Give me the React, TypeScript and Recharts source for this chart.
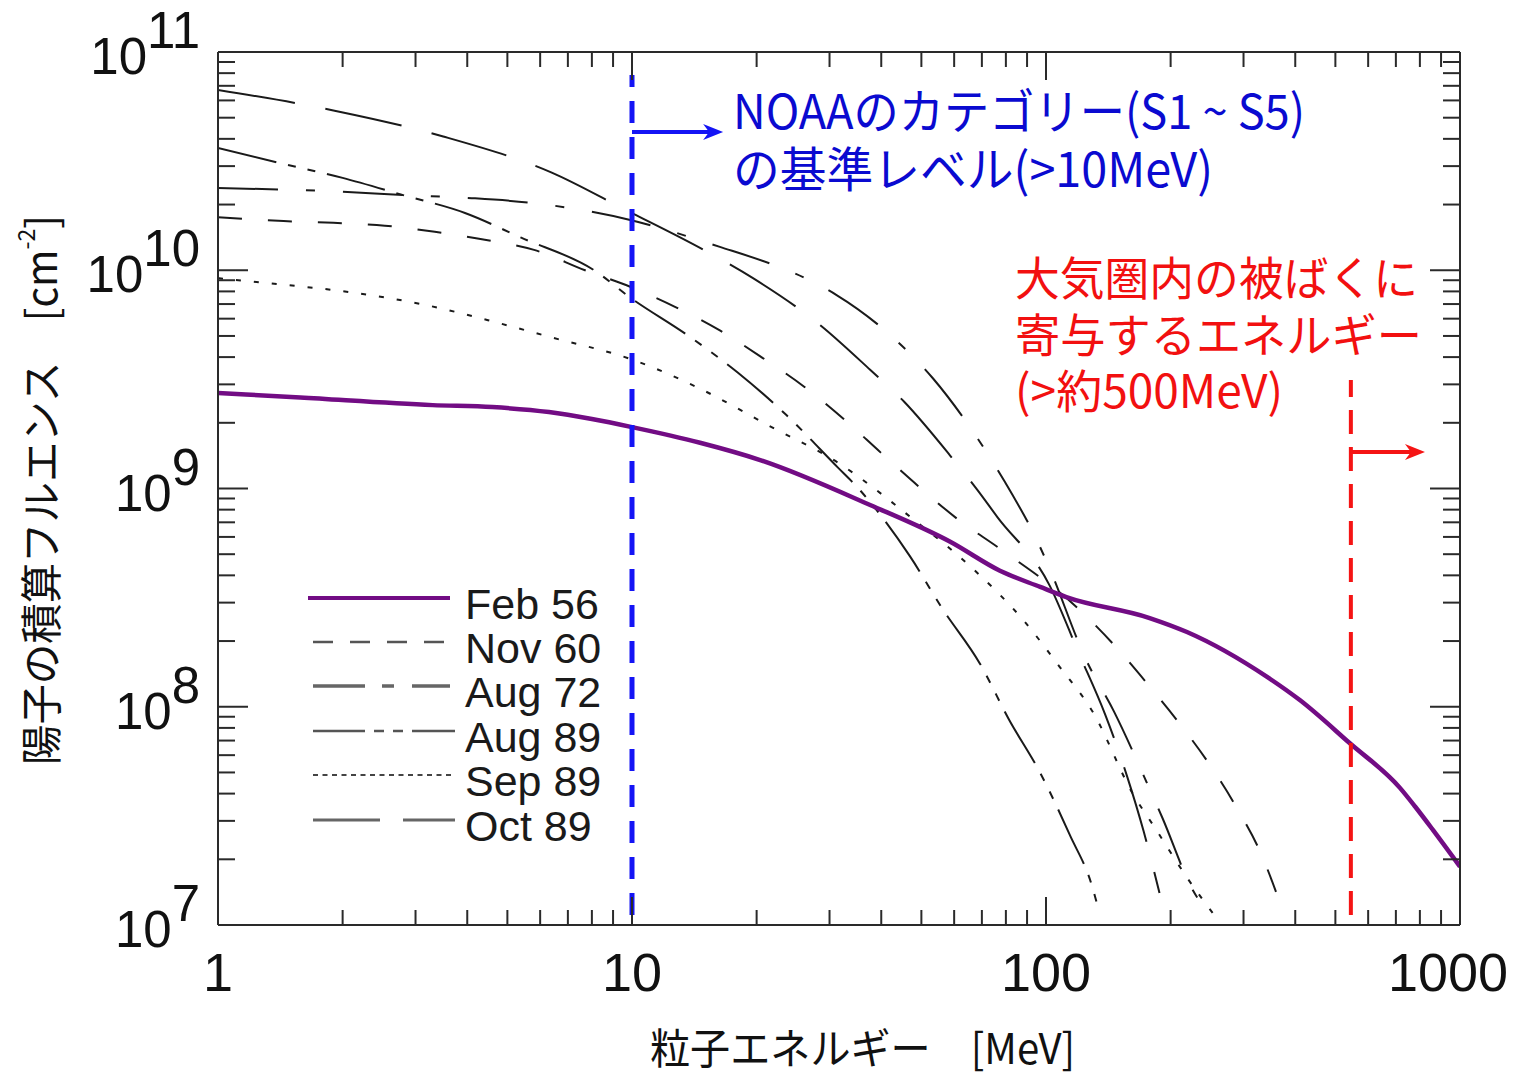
import React from "react";
import { LineChart, Line, XAxis, YAxis, ReferenceLine } from "recharts";

// energy [MeV] vs integral proton fluence [cm^-2]
const feb56Energy = [1, 1.58, 3.3, 4.6, 6.3, 8, 10, 14.6, 20.4, 37.6, 58.7, 77.4, 96.8, 112, 178, 219, 342, 411, 542, 716, 778, 861, 1000];
const feb56Fluence = [2.74e9, 2.61e9, 2.41e9, 2.36e9, 2.24e9, 2.08e9, 1.91e9, 1.62e9, 1.35e9, 8.4e8, 5.7e8, 4.2e8, 3.54e8, 3.18e8, 2.55e8, 2.2e8, 1.37e8, 1.07e8, 6.8e7, 4.25e7, 3.5e7, 2.72e7, 1.85e7];

const nov60Energy = [1, 1.44, 1.9, 2.53, 3.34, 4.41, 5.8, 7.7, 9.9, 12.7, 16.3, 20.7, 26.1, 32.3, 39.9, 49.3, 61.4, 77.4, 120, 146, 176, 211, 249, 290, 330, 374];
const nov60Fluence = [1.75e10, 1.68e10, 1.65e10, 1.6e10, 1.5e10, 1.38e10, 1.24e10, 1.0e10, 8.4e9, 6.8e9, 5.3e9, 3.96e9, 2.92e9, 2.1e9, 1.46e9, 1.02e9, 7.2e8, 5.3e8, 2.8e8, 1.92e8, 1.27e8, 8.3e7, 5.4e7, 3.4e7, 2.14e7, 1.15e7];

const aug72Energy = [1, 2.0, 2.8, 4.1, 5.8, 9.9, 16.3, 22.5, 26.2, 31.2, 41.3, 53.3, 65.5, 79.6, 94.2, 100.5, 125, 146, 176, 191, 226, 249];
const aug72Fluence = [2.38e10, 2.29e10, 2.21e10, 2.14e10, 2.03e10, 1.7e10, 1.28e10, 1.04e10, 9.2e9, 7.7e9, 5.2e9, 3.2e9, 1.91e9, 1.07e9, 6.0e8, 4.6e8, 1.64e8, 9.5e7, 4.4e7, 3.1e7, 1.45e7, 1.11e7];

const aug89Energy = [1, 1.41, 2.0, 2.8, 3.95, 5.4, 8.1, 9.9, 13.7, 18.0, 23.6, 31.4, 34.9, 46.9, 56.3, 69.2, 81.5, 96.7, 114, 130, 134];
const aug89Fluence = [3.63e10, 3.1e10, 2.65e10, 2.21e10, 1.83e10, 1.41e10, 1.0e10, 7.5e9, 5.0e9, 3.4e9, 2.17e9, 1.25e9, 1.02e9, 4.9e8, 2.8e8, 1.58e8, 8.7e7, 5.0e7, 2.6e7, 1.45e7, 1.17e7];

const sep89Energy = [1, 1.26, 2.12, 3.21, 4.49, 6.45, 10, 14.8, 21.3, 31.5, 47.5, 66.5, 89, 108, 130, 162, 183, 221, 255];
const sep89Fluence = [9.2e9, 8.8e9, 7.9e9, 6.9e9, 5.9e9, 4.9e9, 3.9e9, 2.83e9, 1.95e9, 1.31e9, 7.3e8, 4.3e8, 2.44e8, 1.52e8, 9.4e7, 4.0e7, 2.8e7, 1.61e7, 1.11e7];

const oct89Energy = [1, 1.9, 3.5, 6.4, 9.6, 14.9, 19.6, 28.5, 37.6, 45.5, 58.6, 68.4, 76.3, 102, 120, 139, 157, 172, 188];
const oct89Fluence = [6.7e10, 5.4e10, 4.1e10, 2.8e10, 1.9e10, 1.24e10, 9.2e9, 5.6e9, 3.5e9, 2.49e9, 1.42e9, 9.8e8, 7.4e8, 3.6e8, 1.76e8, 9.2e7, 4.8e7, 2.7e7, 1.4e7];

const xTicks = [1, 2, 3, 4, 5, 6, 7, 8, 9, 10, 20, 30, 40, 50, 60, 70, 80, 90, 100, 200, 300, 400, 500, 600, 700, 800, 900, 1000];
const yTicks = [
  1e7, 2e7, 3e7, 4e7, 5e7, 6e7, 7e7, 8e7, 9e7,
  1e8, 2e8, 3e8, 4e8, 5e8, 6e8, 7e8, 8e8, 9e8,
  1e9, 2e9, 3e9, 4e9, 5e9, 6e9, 7e9, 8e9, 9e9,
  1e10, 2e10, 3e10, 4e10, 5e10, 6e10, 7e10, 8e10, 9e10,
  1e11,
];

// annotation positions (data units)
const noaaEnergy = 10;
const noaaLineFluence = [1.11e7, 7.85e10];
const noaaArrowFluence = 4.3e10;
const noaaArrowEnd = 16.6;
const atmosEnergy = 545;
const atmosLineFluence = [1.11e7, 3.14e9];
const atmosArrowFluence = 1.47e9;
const atmosArrowEnd = 823;

const toPoints = (xs: number[], ys: number[]) => xs.map((x, i) => ({ energy: x, fluence: ys[i] }));

const series = [
  { name: "Feb 56", data: toPoints(feb56Energy, feb56Fluence), color: "#720c84", width: 4.5, dash: undefined, legendColor: "#720c84", legendDash: undefined, legendWidth: 4 },
  { name: "Nov 60", data: toPoints(nov60Energy, nov60Fluence), color: "#1a1a1a", width: 2, dash: "24 26", legendColor: "#555", legendDash: "20 17", legendWidth: 2.5 },
  { name: "Aug 72", data: toPoints(aug72Energy, aug72Fluence), color: "#1a1a1a", width: 2, dash: "60 28 9 28", legendColor: "#666", legendDash: "52 17 12 18", legendWidth: 3.5 },
  { name: "Aug 89", data: toPoints(aug89Energy, aug89Fluence), color: "#1a1a1a", width: 2, dash: "60 12 8 12 8 12", legendColor: "#555", legendDash: "52 9 10 9 10 9", legendWidth: 2.5 },
  { name: "Sep 89", data: toPoints(sep89Energy, sep89Fluence), color: "#1a1a1a", width: 2, dash: "5 13", legendColor: "#444", legendDash: "5 4.5", legendWidth: 2 },
  { name: "Oct 89", data: toPoints(oct89Energy, oct89Fluence), color: "#1a1a1a", width: 2, dash: "78 31", legendColor: "#666", legendDash: "67 23", legendWidth: 3 },
];

const LATIN = "'Liberation Sans', Arial, sans-serif";
const JP = "'Noto Sans CJK JP', 'Noto Sans', sans-serif";
const FRAME = "#2a2a2a";

const isDecade = (v: number) => Math.abs(Math.log10(v) - Math.round(Math.log10(v))) < 1e-6;

const BottomTick = (props: any) => {
  const { x, y, payload } = props;
  const v = payload.value;
  const major = isDecade(v);
  return (
    <g>
      <line x1={x} x2={x} y1={y} y2={y - (major ? 28 : 15)} stroke={FRAME} strokeWidth={2} />
      {major && (
        <text x={v === 1000 ? x - 12 : x} y={y + 66} textAnchor="middle" fontSize={54} fontFamily={LATIN} fill="#111">
          {v}
        </text>
      )}
    </g>
  );
};

const TopTick = (props: any) => {
  const { x, y, payload } = props;
  const major = isDecade(payload.value);
  return <line x1={x} x2={x} y1={y} y2={y + (major ? 28 : 15)} stroke={FRAME} strokeWidth={2} />;
};

const LeftTick = (props: any) => {
  const { x, y, payload } = props;
  const v = payload.value;
  const major = isDecade(v);
  return (
    <g>
      <line x1={x} x2={x + (major ? 30 : 17)} y1={y} y2={y} stroke={FRAME} strokeWidth={2} />
      {major && (
        <text x={x - 18} y={y + 22} textAnchor="end" fontSize={51} fontFamily={LATIN} fill="#111">
          10<tspan dy={-26}>{Math.round(Math.log10(v))}</tspan>
        </text>
      )}
    </g>
  );
};

const RightTick = (props: any) => {
  const { x, y, payload } = props;
  const major = isDecade(payload.value);
  return <line x1={x} x2={x - (major ? 30 : 17)} y1={y} y2={y} stroke={FRAME} strokeWidth={2} />;
};

const arrowShape = (color: string) => (p: any) => {
  const { x1, y1, x2, y2 } = p;
  return (
    <g>
      <line x1={x1} y1={y1} x2={x2 - 10} y2={y2} stroke={color} strokeWidth={4} />
      <polygon points={`${x2},${y2} ${x2 - 20},${y2 - 8} ${x2 - 14},${y2} ${x2 - 20},${y2 + 8}`} fill={color} />
    </g>
  );
};

const legendRows = [598, 642, 686, 731, 775, 820];

export default function App() {
  const blackSeries = series.slice(1);
  const purple = series[0];
  return (
    <div style={{ position: "absolute", left: 0, top: 0, width: 1514, height: 1075, background: "#fff" }}>
      <LineChart width={1514} height={1075} margin={{ top: 51, right: 53, bottom: 50, left: 58 }}>
        <XAxis
          dataKey="energy"
          type="number"
          scale="log"
          domain={[1, 1000]}
          allowDataOverflow
          ticks={xTicks}
          interval={0}
          height={100}
          tickSize={0}
          tickMargin={0}
          tick={BottomTick}
          axisLine={{ stroke: FRAME, strokeWidth: 2 }}
          tickLine={false}
        />
        <XAxis
          xAxisId="top"
          orientation="top"
          dataKey="energy"
          type="number"
          scale="log"
          domain={[1, 1000]}
          allowDataOverflow
          ticks={xTicks}
          interval={0}
          height={1}
          tickSize={0}
          tickMargin={0}
          tick={TopTick}
          axisLine={{ stroke: FRAME, strokeWidth: 2 }}
          tickLine={false}
        />
        <YAxis
          dataKey="fluence"
          type="number"
          scale="log"
          domain={[1e7, 1e11]}
          allowDataOverflow
          ticks={yTicks}
          interval={0}
          width={160}
          tickSize={0}
          tickMargin={0}
          tick={LeftTick}
          axisLine={{ stroke: FRAME, strokeWidth: 2 }}
          tickLine={false}
        />
        <YAxis
          yAxisId="right"
          orientation="right"
          dataKey="fluence"
          type="number"
          scale="log"
          domain={[1e7, 1e11]}
          allowDataOverflow
          ticks={yTicks}
          interval={0}
          width={1}
          tickSize={0}
          tickMargin={0}
          tick={RightTick}
          axisLine={{ stroke: FRAME, strokeWidth: 2 }}
          tickLine={false}
        />
        {/* keeps the mirror axes bound to data */}
        <Line
          xAxisId="top"
          yAxisId="right"
          data={purple.data}
          dataKey="fluence"
          stroke="none"
          dot={false}
          activeDot={false}
          legendType="none"
          isAnimationActive={false}
        />
        {blackSeries.map((s) => (
          <Line
            key={s.name}
            name={s.name}
            data={s.data}
            dataKey="fluence"
            type="monotone"
            stroke={s.color}
            strokeWidth={s.width}
            strokeDasharray={s.dash}
            dot={false}
            activeDot={false}
            isAnimationActive={false}
          />
        ))}
        <Line
          name={purple.name}
          data={purple.data}
          dataKey="fluence"
          type="monotone"
          stroke={purple.color}
          strokeWidth={purple.width}
          dot={false}
          activeDot={false}
          isAnimationActive={false}
        />
        <ReferenceLine
          segment={[{ x: noaaEnergy, y: noaaLineFluence[0] }, { x: noaaEnergy, y: noaaLineFluence[1] }]}
          stroke="#1414f5"
          strokeWidth={5}
          strokeDasharray="22 14"
        />
        <ReferenceLine
          segment={[{ x: noaaEnergy, y: noaaArrowFluence }, { x: noaaArrowEnd, y: noaaArrowFluence }]}
          shape={arrowShape("#1414f5")}
        />
        <ReferenceLine
          segment={[{ x: atmosEnergy, y: atmosLineFluence[0] }, { x: atmosEnergy, y: atmosLineFluence[1] }]}
          stroke="#f51414"
          strokeWidth={4}
          strokeDasharray="24 13"
        />
        <ReferenceLine
          segment={[{ x: atmosEnergy, y: atmosArrowFluence }, { x: atmosArrowEnd, y: atmosArrowFluence }]}
          shape={arrowShape("#f51414")}
        />
      </LineChart>

      <svg width={1514} height={1075} style={{ position: "absolute", left: 0, top: 0, pointerEvents: "none" }}>
        {/* legend */}
        {series.map((s, i) => (
          <g key={s.name}>
            <line
              x1={i === 0 ? 308 : 313}
              x2={i < 3 ? 450 : 455}
              y1={legendRows[i]}
              y2={legendRows[i]}
              stroke={s.legendColor}
              strokeWidth={s.legendWidth}
              strokeDasharray={s.legendDash}
            />
            <text x={465} y={legendRows[i] + 21} fontSize={43} fontFamily={LATIN} fill="#1a1a1a">
              {s.name}
            </text>
          </g>
        ))}

        {/* NOAA annotation */}
        <text x={733} y={129} fontSize={48} fontFamily={JP} fill="#0a0ad0" textLength={572} lengthAdjust="spacingAndGlyphs">
          NOAAのカテゴリー(S1 ~ S5)
        </text>
        <text x={733} y={187} fontSize={48} fontFamily={JP} fill="#0a0ad0" textLength={480} lengthAdjust="spacingAndGlyphs">
          の基準レベル(&gt;10MeV)
        </text>

        {/* atmosphere annotation */}
        <text x={1015} y={295} fontSize={46} fontFamily={JP} fill="#f21010" textLength={403} lengthAdjust="spacingAndGlyphs">
          大気圏内の被ばくに
        </text>
        <text x={1015} y={352} fontSize={46} fontFamily={JP} fill="#f21010" textLength={407} lengthAdjust="spacingAndGlyphs">
          寄与するエネルギー
        </text>
        <text x={1015} y={408} fontSize={46} fontFamily={JP} fill="#f21010" textLength={268} lengthAdjust="spacingAndGlyphs">
          (&gt;約500MeV)
        </text>

        {/* axis titles */}
        <text x={650} y={1064} fontSize={42} fontFamily={JP} fill="#111" textLength={425} lengthAdjust="spacingAndGlyphs">
          粒子エネルギー　[MeV]
        </text>
        <text
          x={38}
          y={490}
          transform="rotate(-90 38 490)"
          fontSize={42}
          fontFamily={JP}
          fill="#111"
          textAnchor="middle"
          dominantBaseline="central"
          textLength={550}
          lengthAdjust="spacingAndGlyphs"
        >
          陽子の積算フルエンス　[cm<tspan dy={-14} fontSize={24}>-2</tspan><tspan dy={14}>]</tspan>
        </text>
      </svg>
    </div>
  );
}
